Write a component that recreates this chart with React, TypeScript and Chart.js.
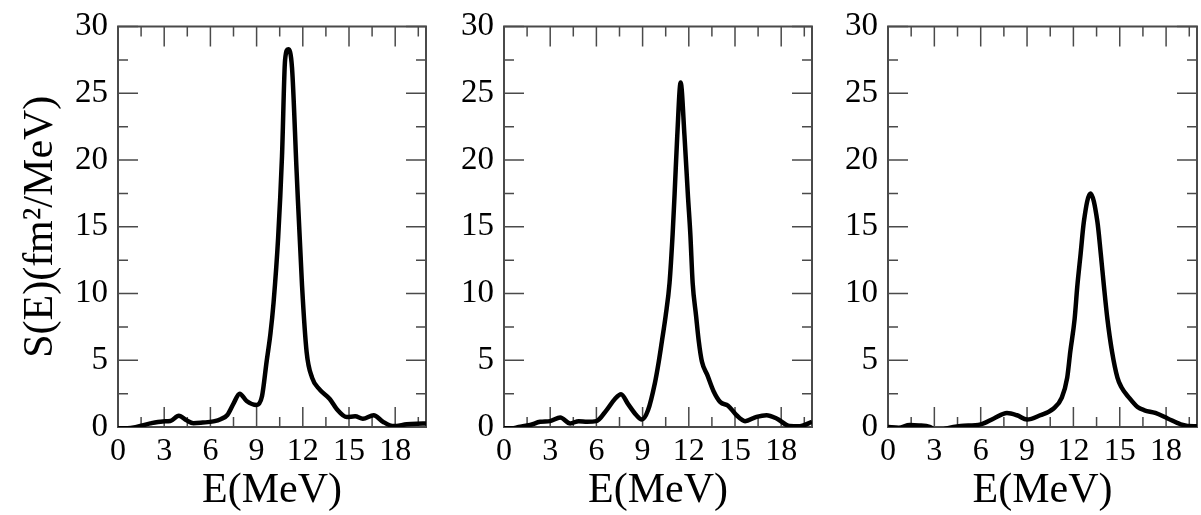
import React, { useEffect, useRef } from 'react';
import { Chart, registerables } from 'chart.js';

Chart.register(...registerables);

// ---------- data ----------
const ENERGY_A = [0, 0.6, 1.2, 2.1, 2.9, 3.4, 3.95, 4.45, 4.9, 5.5, 6.2, 6.7, 7.1, 7.5, 7.9, 8.35, 9.0, 9.35, 9.65, 9.9, 10.1, 10.4, 10.65, 10.85, 11.05, 11.3, 11.6, 11.95, 12.25, 12.6, 13.1, 13.75, 14.2, 14.85, 15.4, 15.9, 16.6, 17.2, 17.9, 18.75, 19.4, 20];
const STRENGTH_A = [-0.1, -0.1, 0, 0.27, 0.42, 0.45, 0.85, 0.5, 0.28, 0.33, 0.42, 0.6, 0.9, 1.75, 2.5, 1.95, 1.65, 2.3, 4.9, 7.0, 9.3, 14.2, 20.3, 27.5, 28.3, 26.9, 19.1, 10.6, 5.6, 3.7, 2.8, 2.1, 1.35, 0.75, 0.8, 0.62, 0.88, 0.4, 0.07, 0.2, 0.25, 0.27];

const ENERGY_B = [0, 0.5, 0.95, 1.7, 2.35, 3.0, 3.65, 4.3, 4.85, 5.4, 6.0, 6.65, 7.2, 7.6, 8.05, 8.6, 8.95, 9.35, 9.8, 10.05, 10.25, 10.5, 10.75, 10.95, 11.08, 11.25, 11.47, 11.72, 11.95, 12.1, 12.25, 12.47, 12.65, 12.85, 13.2, 13.6, 14.05, 14.55, 15.1, 15.65, 16.4, 17.05, 17.7, 18.55, 19.2, 20];
const STRENGTH_B = [-0.1, -0.1, 0, 0.15, 0.39, 0.44, 0.71, 0.27, 0.44, 0.39, 0.44, 1.25, 2.1, 2.46, 1.73, 0.88, 0.56, 1.25, 3.3, 4.9, 6.4, 8.35, 10.8, 14.45, 17.5, 21.8, 25.8, 21.8, 17.2, 14.45, 10.8, 8.35, 6.4, 4.9, 3.9, 2.7, 1.86, 1.6, 0.88, 0.44, 0.76, 0.88, 0.64, 0.07, 0.05, 0.39];

const ENERGY_C = [0, 0.7, 1.4, 2.0, 2.7, 3.2, 3.8, 4.7, 6.0, 6.85, 7.7, 8.35, 9.0, 9.85, 10.7, 11.25, 11.6, 11.8, 12.08, 12.25, 12.47, 12.68, 13.1, 13.55, 13.77, 13.98, 14.2, 14.5, 14.85, 15.1, 15.6, 16.15, 16.6, 17.3, 18.1, 18.95, 19.8, 20];
const STRENGTH_C = [0.0, -0.05, 0.15, 0.12, 0.0, -0.3, -0.1, 0.07, 0.2, 0.64, 1.05, 0.88, 0.56, 0.88, 1.37, 2.2, 3.7, 5.65, 8.1, 10.5, 13.0, 15.4, 17.5, 15.4, 13.0, 10.5, 8.1, 5.65, 3.7, 3.0, 2.2, 1.5, 1.25, 1.05, 0.64, 0.2, 0.05, 0.05];

const X_LABEL_TICKS = [0, 3, 6, 9, 12, 15, 18];
const X_MINOR_TICKS = [1.5, 4.5, 7.5, 10.5, 13.5, 16.5, 19.5];
const Y_LABEL_TICKS = [0, 5, 10, 15, 20, 25, 30];
const Y_MINOR_TICKS = [2.5, 7.5, 12.5, 17.5, 22.5, 27.5];
const X_MIN = 0;
const X_MAX = 20;
const Y_MIN = 0;
const Y_MAX = 30;
const X_TITLE = 'E(MeV)';
const Y_TITLE = 'S(E)(fm\u00B2/MeV)';

// ---------- layout ----------
const PAGE_W = 1201;
const PAGE_H = 515;
const CHART_TOP = 18;
const CHART_BOTTOM = 427;
const FONT = '"Liberation Serif", "Times New Roman", serif';

Chart.defaults.font.family = FONT;
Chart.defaults.color = '#000';

const frameTicks = {
  id: 'frameTicks',
  beforeDatasetsDraw(chart: any) {
    const { ctx, chartArea, scales } = chart;
    const { left, right, top, bottom } = chartArea;
    const x = scales.x;
    const y = scales.y;
    ctx.save();
    ctx.strokeStyle = '#4a4a4a';
    ctx.lineWidth = 1.5;
    const vTick = (v: number, len: number) => {
      const px = x.getPixelForValue(v);
      ctx.beginPath();
      ctx.moveTo(px, bottom);
      ctx.lineTo(px, bottom - len);
      ctx.moveTo(px, top);
      ctx.lineTo(px, top + len);
      ctx.stroke();
    };
    const hTick = (v: number, len: number) => {
      const py = y.getPixelForValue(v);
      ctx.beginPath();
      ctx.moveTo(left, py);
      ctx.lineTo(left + len, py);
      ctx.moveTo(right, py);
      ctx.lineTo(right - len, py);
      ctx.stroke();
    };
    X_LABEL_TICKS.forEach((v) => vTick(v, 20));
    X_MINOR_TICKS.forEach((v) => vTick(v, 10));
    Y_LABEL_TICKS.forEach((v) => hTick(v, 20));
    Y_MINOR_TICKS.forEach((v) => hTick(v, 10));
    ctx.lineWidth = 2;
    ctx.strokeRect(left, top, right - left, bottom - top);
    ctx.restore();
  },
};

type PanelProps = {
  energies: number[];
  strengths: number[];
  canvasLeft: number;
  canvasWidth: number;
  chartLeft: number;
  chartRight: number;
  showYTitle: boolean;
};

function Panel({ energies, strengths, canvasLeft, canvasWidth, chartLeft, chartRight, showYTitle }: PanelProps) {
  const ref = useRef<HTMLCanvasElement | null>(null);

  useEffect(() => {
    if (!ref.current) return;
    const yWidth = chartLeft - canvasLeft;
    const rightPad = canvasLeft + canvasWidth - chartRight;
    const chart = new Chart(ref.current, {
      type: 'line',
      data: {
        datasets: [
          {
            data: energies.map((e, i) => ({ x: e, y: strengths[i] })),
            borderColor: '#000',
            borderWidth: 4.5,
            pointRadius: 0,
            fill: false,
            cubicInterpolationMode: 'monotone',
            clip: 0,
          } as any,
        ],
      },
      options: {
        responsive: false,
        animation: false,
        devicePixelRatio: 1,
        layout: { padding: { left: 0, right: rightPad, top: CHART_TOP, bottom: 0 } },
        plugins: { legend: { display: false }, tooltip: { enabled: false } },
        scales: {
          x: {
            type: 'linear',
            min: X_MIN,
            max: X_MAX,
            grid: { display: false, drawTicks: false },
            border: { display: false },
            afterBuildTicks: (scale: any) => {
              scale.ticks = X_LABEL_TICKS.map((v) => ({ value: v }));
            },
            afterFit: (scale: any) => {
              scale.height = PAGE_H - CHART_BOTTOM;
            },
            ticks: {
              padding: 9,
              maxRotation: 0,
              autoSkip: false,
              color: '#000',
              font: { size: 32, lineHeight: 1.0, family: FONT },
            },
            title: {
              display: true,
              text: X_TITLE,
              color: '#000',
              padding: { top: 0, bottom: 3 },
              font: { size: 42, lineHeight: 1.0, family: FONT },
            },
          },
          y: {
            type: 'linear',
            min: Y_MIN,
            max: Y_MAX,
            grid: { display: false, drawTicks: false },
            border: { display: false },
            afterBuildTicks: (scale: any) => {
              scale.ticks = Y_LABEL_TICKS.map((v) => ({ value: v }));
            },
            afterFit: (scale: any) => {
              scale.width = yWidth;
            },
            ticks: {
              padding: 10,
              autoSkip: false,
              color: '#000',
              font: { size: 33, lineHeight: 1.0, family: FONT },
            },
            title: {
              display: showYTitle,
              text: Y_TITLE,
              color: '#000',
              padding: { top: 20, bottom: 0 },
              font: { size: 42, lineHeight: 1.0, family: FONT },
            },
          },
        },
      } as any,
      plugins: [frameTicks],
    });
    return () => chart.destroy();
  }, [energies, strengths, canvasLeft, canvasWidth, chartLeft, chartRight, showYTitle]);

  return (
    <canvas
      ref={ref}
      width={canvasWidth}
      height={PAGE_H}
      style={{ position: 'absolute', left: canvasLeft, top: 0, width: canvasWidth, height: PAGE_H }}
    />
  );
}

export default function App() {
  return (
    <div style={{ position: 'absolute', left: 0, top: 0, width: PAGE_W, height: PAGE_H, background: '#fff', overflow: 'hidden' }}>
      <Panel energies={ENERGY_A} strengths={STRENGTH_A} canvasLeft={0} canvasWidth={440} chartLeft={118} chartRight={426} showYTitle={true} />
      <Panel energies={ENERGY_B} strengths={STRENGTH_B} canvasLeft={440} canvasWidth={380} chartLeft={504} chartRight={812} showYTitle={false} />
      <Panel energies={ENERGY_C} strengths={STRENGTH_C} canvasLeft={820} canvasWidth={381} chartLeft={888} chartRight={1197} showYTitle={false} />
    </div>
  );
}
